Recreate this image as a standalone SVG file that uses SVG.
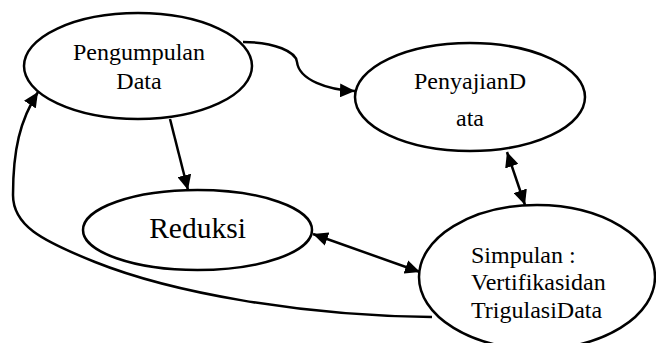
<svg xmlns="http://www.w3.org/2000/svg" width="656" height="343" viewBox="0 0 656 343">
<style>
.node{fill:#fff;stroke:#000;stroke-width:2.5}
.edge{fill:none;stroke:#000;stroke-width:2.5}
text{font-family:'Liberation Serif','Times New Roman',Times,serif}
</style>
<defs>
<marker id="ah" markerUnits="userSpaceOnUse" markerWidth="16" markerHeight="14" refX="15" refY="7" orient="auto-start-reverse">
<path d="M0,0 L15,7 L0,14 z" fill="#000"/>
</marker>
</defs>
<rect width="656" height="343" fill="#fff"/>
<g id="connectors">
<path class="edge" d="M243,42 C275,42 296,52 297,62 C299,80 328,90 355,91" marker-end="url(#ah)"/>
<path class="edge" d="M170,119 L188,190" marker-end="url(#ah)"/>
<path class="edge" d="M507,152 L525,205" marker-start="url(#ah)" marker-end="url(#ah)"/>
<path class="edge" d="M313,234 L420,272" marker-start="url(#ah)" marker-end="url(#ah)"/>
<path class="edge" d="M432,317 C300,316 170,292 95,262 C40,240 13,225 13,195 C13,150 20,120 38,92" marker-end="url(#ah)"/>
</g>
<g font-size="24" fill="#000">
<g id="pengumpulan">
<ellipse class="node" cx="138" cy="66" rx="114" ry="53"/>
<text x="139" y="60" text-anchor="middle" font-family="Liberation Serif, serif">Pengumpulan</text>
<text x="139" y="89" text-anchor="middle" font-family="Liberation Serif, serif">Data</text>
</g>
<g id="penyajian">
<ellipse class="node" cx="470" cy="97" rx="115" ry="54"/>
<text x="470" y="89" text-anchor="middle" font-family="Liberation Serif, serif">PenyajianD</text>
<text x="470" y="126" text-anchor="middle" font-family="Liberation Serif, serif">ata</text>
</g>
<g id="reduksi">
<ellipse class="node" cx="197.5" cy="230" rx="114.5" ry="40"/>
<text x="197.5" y="238" text-anchor="middle" font-size="29.5" font-family="Liberation Serif, serif">Reduksi</text>
</g>
<g id="simpulan">
<ellipse class="node" cx="537" cy="277" rx="118" ry="72"/>
<text x="471" y="263" font-family="Liberation Serif, serif">Simpulan :</text>
<text x="471" y="290" font-family="Liberation Serif, serif">Vertifikasidan</text>
<text x="471" y="318" font-family="Liberation Serif, serif">TrigulasiData</text>
</g>
</g>
</svg>
